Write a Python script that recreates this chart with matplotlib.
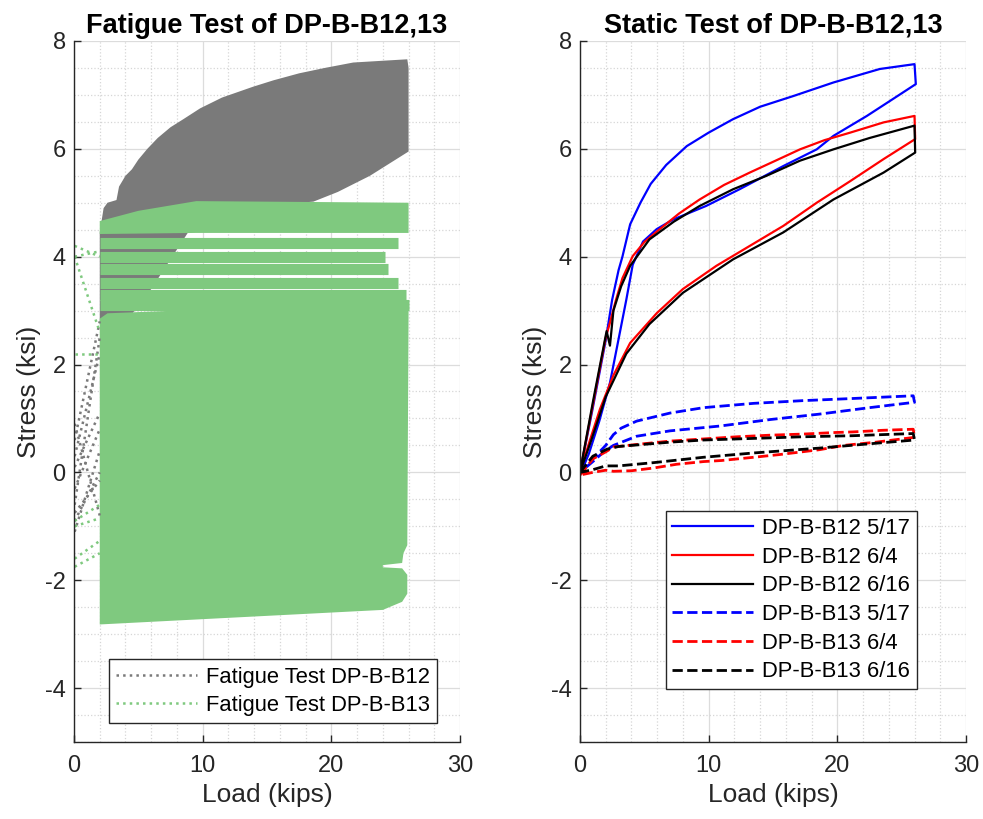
import numpy as np
import matplotlib
matplotlib.use('Agg')
import matplotlib.pyplot as plt
from matplotlib.ticker import MultipleLocator

plt.rcParams['font.family'] = ['Liberation Sans', 'DejaVu Sans']
plt.rcParams['axes.unicode_minus'] = False

# ---- fatigue test data (envelopes) ----
# B12 band (grey), outline of the dense cycles
b12_env_load = [2.0, 2.0, 2.3, 2.6, 3.3, 3.5, 4.0, 4.5, 5.0, 5.7, 6.5, 7.5, 8.5, 9.8, 11.5, 13.9,
                15.5, 17.5, 19.5, 21.7, 23.8, 25.9, 26.0, 26.0, 23.0, 20.5, 18.6, 12.0, 9.0, 6.0,
                4.0, 2.0]
b12_env_stress = [2.75, 4.45, 4.9, 5.0, 5.05, 5.3, 5.5, 5.62, 5.8, 6.0, 6.2, 6.4, 6.55, 6.75, 6.95,
                  7.15, 7.27, 7.4, 7.5, 7.6, 7.63, 7.66, 7.5, 5.95, 5.5, 5.2, 5.02, 4.9, 4.5, 3.4,
                  2.78, 2.75]
# start-up ramps of B12 from 0 to 2 kips
ramp_load = [0.05, 2.0]
b12_ramp_start = [-0.9, -0.6, -0.3, 0.1, 0.3, 0.6, -0.75, -1.1, 0.9]
b12_ramp_end = [0.0, 2.5, 0.8, 1.1, 2.2, 2.8, -0.15, 0.4, -0.8]

# B13 band (green), main block
b13_env_load = [2.0, 2.6, 8.0, 26.0, 25.9, 25.6, 25.5, 24.0, 24.0, 25.5, 25.9,
                25.9, 25.5, 24.5, 24.0, 2.0]
b13_env_stress = [2.85, 2.95, 3.0, 3.0, -1.35, -1.5, -1.68, -1.72, -1.76, -1.78, -1.9,
                  -2.25, -2.4, -2.5, -2.55, -2.82]
# top band of B13
b13_top_load = [2.0, 2.0, 5.0, 9.5, 26.0, 26.0, 9.5]
b13_top_stress = [4.42, 4.66, 4.85, 5.03, 5.0, 4.44, 4.44]
# streaks between the top band and the main block
b13_streak_stress = [4.25, 4.0, 3.78, 3.52, 3.28, 3.1]
b13_streak_end = [25.2, 24.2, 24.4, 25.2, 25.8, 26.0]
b13_ramp_start = [4.2, 4.0, 4.0, 2.2, -0.9, -1.0, -1.6, -1.75]
b13_ramp_end = [4.0, 4.1, 2.6, 2.2, -0.6, -0.85, -1.27, -1.5]

# ---- static test data ----
b12_517_load = [0, 1.0, 2.0, 2.5, 3.0, 3.3, 3.9, 4.7, 5.5, 6.7, 8.3, 10, 11.9, 14, 16.6, 19.7, 23.3,
                26.0, 26.1, 24.3, 22.3, 19.7, 18.4, 15.8, 12.4, 9.8, 7.25, 5.96, 4.9, 4.1, 3.6, 2.9,
                2.33, 1.5, 0.7, 0]
b12_517_stress = [0, 1.2, 2.45, 3.2, 3.75, 4.0, 4.6, 5.0, 5.35, 5.7, 6.05, 6.3, 6.55, 6.78, 6.98,
                  7.23, 7.48, 7.57, 7.2, 6.92, 6.61, 6.24, 5.99, 5.68, 5.25, 4.94, 4.69, 4.51, 4.28,
                  3.85, 3.2, 2.35, 1.66, 0.95, 0.35, -0.05]
b12_604_load = [0, 1.0, 2.0, 2.3, 2.8, 3.3, 4.1, 5.0, 6.2, 7.7, 9.3, 11.2, 13.2, 15.2, 17.1, 19.0,
                21.0, 23.6, 26.0, 26.05, 23.6, 21.0, 18.4, 15.8, 13.2, 10.6, 8.0, 5.96, 3.9, 2.6,
                1.55, 0.78, 0]
b12_604_stress = [0, 1.25, 2.5, 2.75, 3.2, 3.6, 4.01, 4.27, 4.51, 4.8, 5.06, 5.33, 5.56, 5.78, 5.99,
                  6.16, 6.30, 6.49, 6.61, 6.18, 5.81, 5.40, 5.0, 4.57, 4.2, 3.83, 3.4, 2.95, 2.4,
                  1.8, 1.17, 0.6, 0]
b12_616_load = [0, 1.0, 2.07, 2.33, 2.6, 3.2, 3.9, 5.4, 7.3, 9.3, 11.9, 14.5, 17.1, 19.7, 22.5, 26.0,
                26.05, 23.6, 19.7, 15.8, 11.9, 8.0, 5.4, 3.6, 2.0, 0.9, 0]
b12_616_stress = [0, 1.3, 2.62, 2.35, 3.0, 3.45, 3.83, 4.32, 4.65, 4.94, 5.25, 5.5, 5.78, 5.99, 6.2,
                  6.43, 5.93, 5.56, 5.06, 4.45, 3.95, 3.33, 2.75, 2.2, 1.4, 0.61, 0]
b13_517_load = [0, 1.0, 2.0, 2.6, 3.2, 4.4, 7.0, 9.6, 13.5, 17.3, 21.2, 25.9, 26.0, 22.5, 18.6,
                14.8, 10.9, 7.0, 4.4, 2.6, 1.8, 1.0, 0]
b13_517_stress = [0, 0.25, 0.5, 0.7, 0.82, 0.95, 1.1, 1.2, 1.28, 1.33, 1.37, 1.42, 1.3, 1.2, 1.08,
                  0.98, 0.86, 0.77, 0.67, 0.5, 0.37, 0.2, 0.0]
b13_604_load = [0, 1.0, 2.0, 2.6, 4.5, 7.0, 9.6, 12.2, 14.8, 17.3, 19.9, 21.2, 23.5, 25.9, 26.0,
                23.0, 20.5, 18.6, 15.5, 13.5, 11.0, 9.6, 7.5, 5.7, 4.0, 2.6, 2.0, 1.0, 0]
b13_604_stress = [-0.05, 0.25, 0.38, 0.47, 0.52, 0.58, 0.62, 0.66, 0.69, 0.71, 0.74, 0.75, 0.78, 0.8,
                  0.65, 0.56, 0.5, 0.42, 0.33, 0.28, 0.22, 0.2, 0.15, 0.08, 0.03, 0.02, 0.04, 0.0, -0.05]
b13_616_load = [0, 1.0, 2.1, 3.0, 5.0, 7.0, 9.6, 12.2, 14.8, 17.3, 21.2, 23.5, 25.9, 26.0, 22.5,
                18.6, 13.5, 9.6, 5.7, 3.0, 2.0, 1.0, 0]
b13_616_stress = [0, 0.3, 0.43, 0.48, 0.52, 0.56, 0.6, 0.62, 0.64, 0.66, 0.68, 0.7, 0.72, 0.6, 0.53,
                  0.45, 0.36, 0.28, 0.18, 0.12, 0.12, 0.05, 0]

grey = '#7a7a7a'
green = '#7fc97f'
axcol = '#262626'


def style_axes(ax, title):
    ax.set_xlim(0, 30)
    ax.set_ylim(-5, 8)
    ax.xaxis.set_major_locator(MultipleLocator(10))
    ax.xaxis.set_minor_locator(MultipleLocator(2))
    ax.yaxis.set_major_locator(MultipleLocator(2))
    ax.yaxis.set_minor_locator(MultipleLocator(0.5))
    ax.grid(True, which='major', color='#dcdcdc', lw=0.9)
    ax.grid(True, which='minor', color='#d6d6d6', lw=0.9, ls=':')
    ax.set_axisbelow(True)
    ax.tick_params(which='major', direction='in', length=5, width=1, colors=axcol,
                   labelsize=17)
    ax.tick_params(axis='x', pad=9)
    ax.tick_params(axis='y', pad=6)
    ax.tick_params(which='minor', length=0)
    for s in ['top', 'right']:
        ax.spines[s].set_visible(False)
    for s in ['left', 'bottom']:
        ax.spines[s].set_color(axcol)
        ax.spines[s].set_linewidth(1.0)
    ax.set_xlabel('Load (kips)', fontsize=19, color=axcol, labelpad=5)
    ax.set_ylabel('Stress (ksi)', fontsize=19, color=axcol, labelpad=3)
    ax.set_title(title, fontsize=19.5, fontweight='bold', pad=6)


fig = plt.figure(figsize=(9.83, 8.19), dpi=100)
ax1 = fig.add_axes([0.0753, 0.094, 0.3927, 0.856])
ax2 = fig.add_axes([0.590, 0.094, 0.3927, 0.856])

# left: fatigue
ax1.fill(b12_env_load, b12_env_stress, color=grey, lw=0)
for i in range(len(b12_ramp_start)):
    ax1.plot(ramp_load, [b12_ramp_start[i], b12_ramp_end[i]], ls=':', color=grey, lw=1.8,
             label='Fatigue Test DP-B-B12' if i == 0 else None)
ax1.fill(b13_env_load, b13_env_stress, color=green, lw=0)
ax1.fill(b13_top_load, b13_top_stress, color=green, lw=0)
for y, xe in zip(b13_streak_stress, b13_streak_end):
    ax1.plot([2.0, xe], [y, y], color=green, lw=8, solid_capstyle='butt')
for i in range(len(b13_ramp_start)):
    ax1.plot(ramp_load, [b13_ramp_start[i], b13_ramp_end[i]], ls=':', color=green, lw=1.8,
             label='Fatigue Test DP-B-B13' if i == 0 else None)
style_axes(ax1, 'Fatigue Test of DP-B-B12,13')
leg1 = ax1.legend(loc='lower left', bbox_to_anchor=(0.0907, 0.027), borderaxespad=0,
                  fontsize=15.8, handlelength=3.7, handletextpad=0.4, fancybox=False,
                  framealpha=1, edgecolor=axcol, labelspacing=0.33, borderpad=0.33)
leg1.get_frame().set_linewidth(1.0)

# right: static
ax2.plot(b12_517_load, b12_517_stress, color='#0000ff', lw=1.6, label='DP-B-B12 5/17')
ax2.plot(b12_604_load, b12_604_stress, color='#ff0000', lw=1.6, label='DP-B-B12 6/4')
ax2.plot(b12_616_load, b12_616_stress, color='#000000', lw=1.6, label='DP-B-B12 6/16')
ax2.plot(b13_517_load, b13_517_stress, color='#0000ff', lw=2.0, ls='--', label='DP-B-B13 5/17')
ax2.plot(b13_604_load, b13_604_stress, color='#ff0000', lw=2.0, ls='--', label='DP-B-B13 6/4')
ax2.plot(b13_616_load, b13_616_stress, color='#000000', lw=2.0, ls='--', label='DP-B-B13 6/16')
style_axes(ax2, 'Static Test of DP-B-B12,13')
leg2 = ax2.legend(loc='lower left', bbox_to_anchor=(0.222, 0.0756), borderaxespad=0,
                  fontsize=15.8, handlelength=3.7, handletextpad=0.4, fancybox=False,
                  framealpha=1, edgecolor=axcol, labelspacing=0.35, borderpad=0.3)
leg2.get_frame().set_linewidth(1.0)

fig.savefig('out.png', dpi=100)
